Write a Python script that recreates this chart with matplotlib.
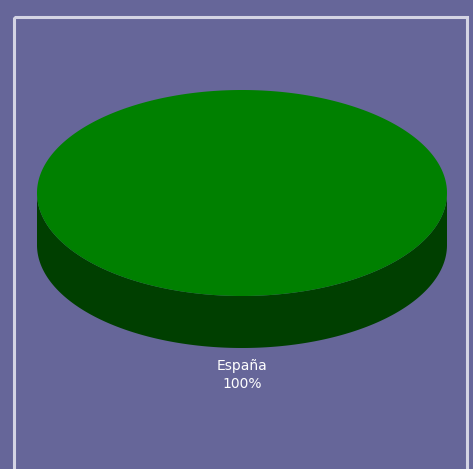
import matplotlib.pyplot as plt
from matplotlib.patches import Polygon, Rectangle
import numpy as np

# data
paises = ["España"]
valores = [100]
colores_top = ["#008000"]
colores_lado = ["#003f00"]

bg = "#666699"

fig = plt.figure(figsize=(4.73, 4.69), dpi=100)
fig.patch.set_facecolor(bg)
ax = fig.add_axes([0, 0, 1, 1])
ax.set_xlim(0, 473)
ax.set_ylim(469, 0)
ax.axis("off")

# marco claro
ax.add_patch(Rectangle((14, 17.5), 453, 470, fill=False, edgecolor="#d4d4e4", linewidth=2.2))

# geometria del pastel 3d (pixeles)
cx, cy = 242, 193
rx, ry = 205, 103
prof = 52

total = sum(valores)
inicio = -np.pi / 2
for nombre, v, ct, cl in zip(paises, valores, colores_top, colores_lado):
    ang = 2 * np.pi * v / total
    t = np.linspace(inicio, inicio + ang, 400)
    # lado frontal (sin t > 0 en coords de pantalla)
    tf = t[np.sin(t) >= 0]
    if len(tf) > 1:
        xs = cx + rx * np.cos(tf)
        ys = cy + ry * np.sin(tf)
        pts = np.column_stack([np.r_[xs, xs[::-1]], np.r_[ys, ys[::-1] + prof]])
        ax.add_patch(Polygon(pts, closed=True, facecolor=cl, edgecolor="none"))
    # cara superior
    xs = cx + rx * np.cos(t)
    ys = cy + ry * np.sin(t)
    if v < total:
        xs = np.r_[cx, xs]
        ys = np.r_[cy, ys]
    ax.add_patch(Polygon(np.column_stack([xs, ys]), closed=True, facecolor=ct, edgecolor="none"))
    pct = 100 * v / total
    ax.text(cx, cy + ry + prof + 27, f"{nombre}\n{pct:.0f}%", ha="center", va="center",
            color="white", fontsize=10, linespacing=1.45, family="DejaVu Sans")
    inicio += ang

fig.savefig("out.png", dpi=100, facecolor=bg)
